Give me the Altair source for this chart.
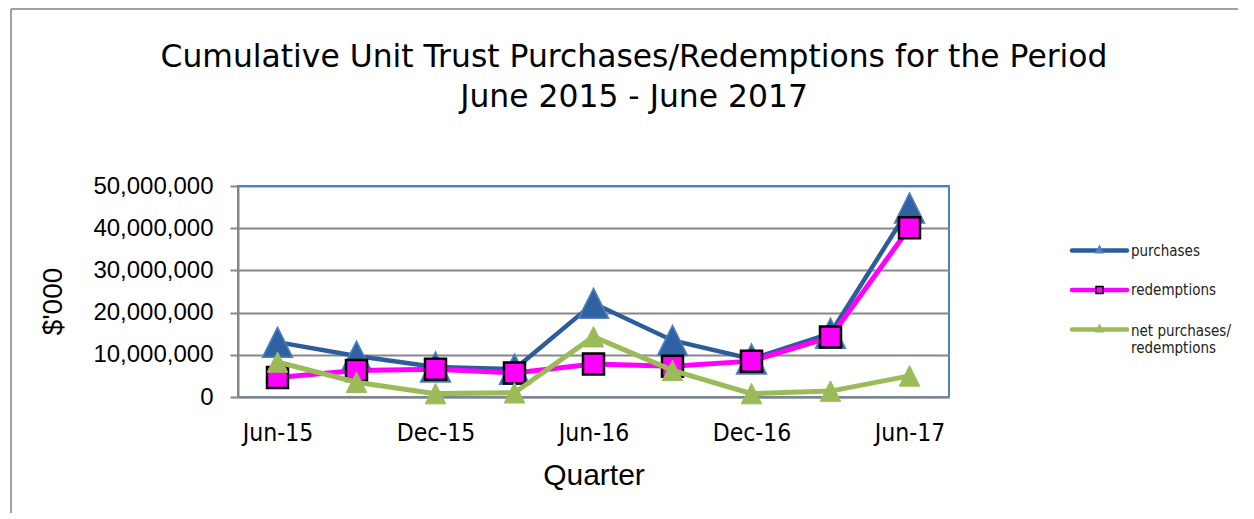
import altair as alt
import pandas as pd

quarters = ["Jun-15", "Sep-15", "Dec-15", "Mar-16", "Jun-16", "Sep-16", "Dec-16", "Mar-17", "Jun-17"]
shown_ticks = ["Jun-15", "Dec-15", "Jun-16", "Dec-16", "Jun-17"]
purchases = [13000000, 9700000, 7100000, 6600000, 22200000, 13400000, 9000000, 15100000, 44800000]
redemptions = [4600000, 6300000, 6600000, 5700000, 7800000, 7300000, 8500000, 14200000, 40100000]
net = [8300000, 3500000, 800000, 1000000, 14300000, 6300000, 800000, 1400000, 5000000]
series_names = ["purchases", "redemptions", "net purchases/redemptions"]
legend_labels = [["purchases"], ["redemptions"], ["net purchases/", "redemptions "]]
title_lines = ["Cumulative Unit Trust Purchases/Redemptions for the Period", "June 2015 - June 2017"]
y_ticks = [0, 10000000, 20000000, 30000000, 40000000, 50000000]

rows = []
for name, vals in zip(series_names, [purchases, redemptions, net]):
    for q, v in zip(quarters, vals):
        rows.append({"quarter": q, "series": name, "value": v})
df = pd.DataFrame(rows)

W, H = 711, 211
GRID = "#878787"
BLUE_LINE = "#2C5D9A"
BLUE_MARK = "#2E62A2"
BLUE_EDGE = "#4F81BD"
MAGENTA = "#FF00FF"
GREEN = "#9BBB59"
TRI = "M0,-1L1,1L-1,1Z"
COND = "DejaVu Sans Condensed, Liberation Sans"

x_enc = alt.X(
    "quarter:N", sort=quarters,
    scale=alt.Scale(type="point", padding=0.5),
    axis=alt.Axis(
        values=shown_ticks, ticks=False, labelAngle=0, labelPadding=24,
        labelFont=COND, labelFontSize=24.5, labelColor="#000000",
        domainColor=GRID, domainWidth=2, grid=False,
        title="Quarter", titleFont="Liberation Sans", titleFontSize=30,
        titleFontWeight="normal", titleColor="#000000",
        titleBaseline="alphabetic", titleY=87,
    ),
)
y_enc = alt.Y(
    "value:Q",
    scale=alt.Scale(domain=[0, 50000000], nice=False, zero=True),
    axis=alt.Axis(
        values=y_ticks, format=",d", labelFont="Liberation Sans", labelFontSize=24,
        labelColor="#000000", labelPadding=17, tickSize=8, tickColor=GRID, tickWidth=2,
        domainColor=GRID, domainWidth=2, gridColor=GRID, gridWidth=2,
        title="$'000", titleFont="Liberation Sans", titleFontSize=28,
        titleFontWeight="normal", titleColor="#000000", titleAngle=-90,
        titleBaseline="middle", titleX=-185, titleY=115,
    ),
)

base = alt.Chart(df).encode(x=x_enc, y=y_enc)

def series(name):
    return base.transform_filter(alt.datum.series == name)

top_border = alt.Chart(pd.DataFrame({"v": [50000000]})).mark_rule(
    color=BLUE_EDGE, strokeWidth=2
).encode(y="v:Q")

p_line = series("purchases").mark_line(color=BLUE_LINE, strokeWidth=4.5)
p_pts = series("purchases").mark_point(
    shape=TRI, size=900, filled=True, fill=BLUE_MARK, stroke=BLUE_EDGE, strokeWidth=1.5, opacity=1
)
r_line = series("redemptions").mark_line(color=MAGENTA, strokeWidth=5)
r_pts = series("redemptions").mark_point(
    shape="square", size=441, filled=True, fill=MAGENTA, stroke="#000000", strokeWidth=2.5, opacity=1
)
n_line = series("net purchases/redemptions").mark_line(color=GREEN, strokeWidth=5)
n_pts = series("net purchases/redemptions").mark_point(
    shape=TRI, size=420, filled=True, fill=GREEN, stroke=GREEN, strokeWidth=1, opacity=1
)

# Title
title_df = pd.DataFrame({"t": title_lines})
title_layers = []
for line, yy in zip(title_lines, [-119, -79]):
    title_layers.append(
        alt.Chart(title_df).transform_filter(alt.datum.t == line).mark_text(
            font="DejaVu Sans", fontSize=31.4, color="#000000", align="center", baseline="alphabetic"
        ).encode(x=alt.value(396), y=alt.value(yy), text="t:N")
    )

# Legend
leg_y = [64.5, 104, 143.5]
leg_colors = [BLUE_LINE, MAGENTA, GREEN]
leg_layers = []
dummy = pd.DataFrame({"a": [0]})
for k in range(3):
    leg_layers.append(
        alt.Chart(dummy).mark_rule(color=leg_colors[k], strokeWidth=4.5, strokeCap="round").encode(
            x=alt.value(834), x2=alt.value(889), y=alt.value(leg_y[k])
        )
    )
leg_layers.append(alt.Chart(dummy).mark_point(
    shape=TRI, size=36, filled=True, fill=BLUE_EDGE, stroke=BLUE_EDGE, opacity=1
).encode(x=alt.value(861.5), y=alt.value(leg_y[0] - 1)))
leg_layers.append(alt.Chart(dummy).mark_point(
    shape="square", size=49, filled=True, fill=MAGENTA, stroke="#000000", strokeWidth=1.5, opacity=1
).encode(x=alt.value(861.5), y=alt.value(leg_y[1])))
leg_layers.append(alt.Chart(dummy).mark_point(
    shape=TRI, size=36, filled=True, fill=GREEN, stroke=GREEN, opacity=1
).encode(x=alt.value(861.5), y=alt.value(leg_y[2] - 1)))

leg_text = [lab for labs in legend_labels for lab in labs]
leg_text_y = [64.5, 104, 145, 162]
leg_text_df = pd.DataFrame({"lab": leg_text})
for lab, yy in zip(leg_text, leg_text_y):
    leg_layers.append(
        alt.Chart(leg_text_df).transform_filter(alt.datum.lab == lab)
        .mark_text(font=COND, fontSize=15, color="#222222", align="left", baseline="middle")
        .encode(x=alt.value(893), y=alt.value(yy), text="lab:N")
    )

# Outer chart frame
frame = [
    alt.Chart(dummy).mark_rule(color="#A0A0A0", strokeWidth=2).encode(
        x=alt.value(-227), y=alt.value(-177), y2=alt.value(345)
    ),
    alt.Chart(dummy).mark_rule(color="#A0A0A0", strokeWidth=2).encode(
        x=alt.value(-227), x2=alt.value(1020), y=alt.value(-177)
    ),
]

chart = alt.layer(
    top_border, p_line, p_pts, r_line, r_pts, n_line, n_pts,
    *title_layers, *leg_layers, *frame
).properties(
    width=W, height=H,
    autosize=alt.AutoSizeParams(type="none"),
    padding={"left": 230, "top": 178, "right": 289, "bottom": 116},
    background="#FFFFFF",
).configure_view(stroke=BLUE_EDGE, strokeWidth=2)

chart.save("out.html", embed_options={"renderer": "svg", "actions": False})
